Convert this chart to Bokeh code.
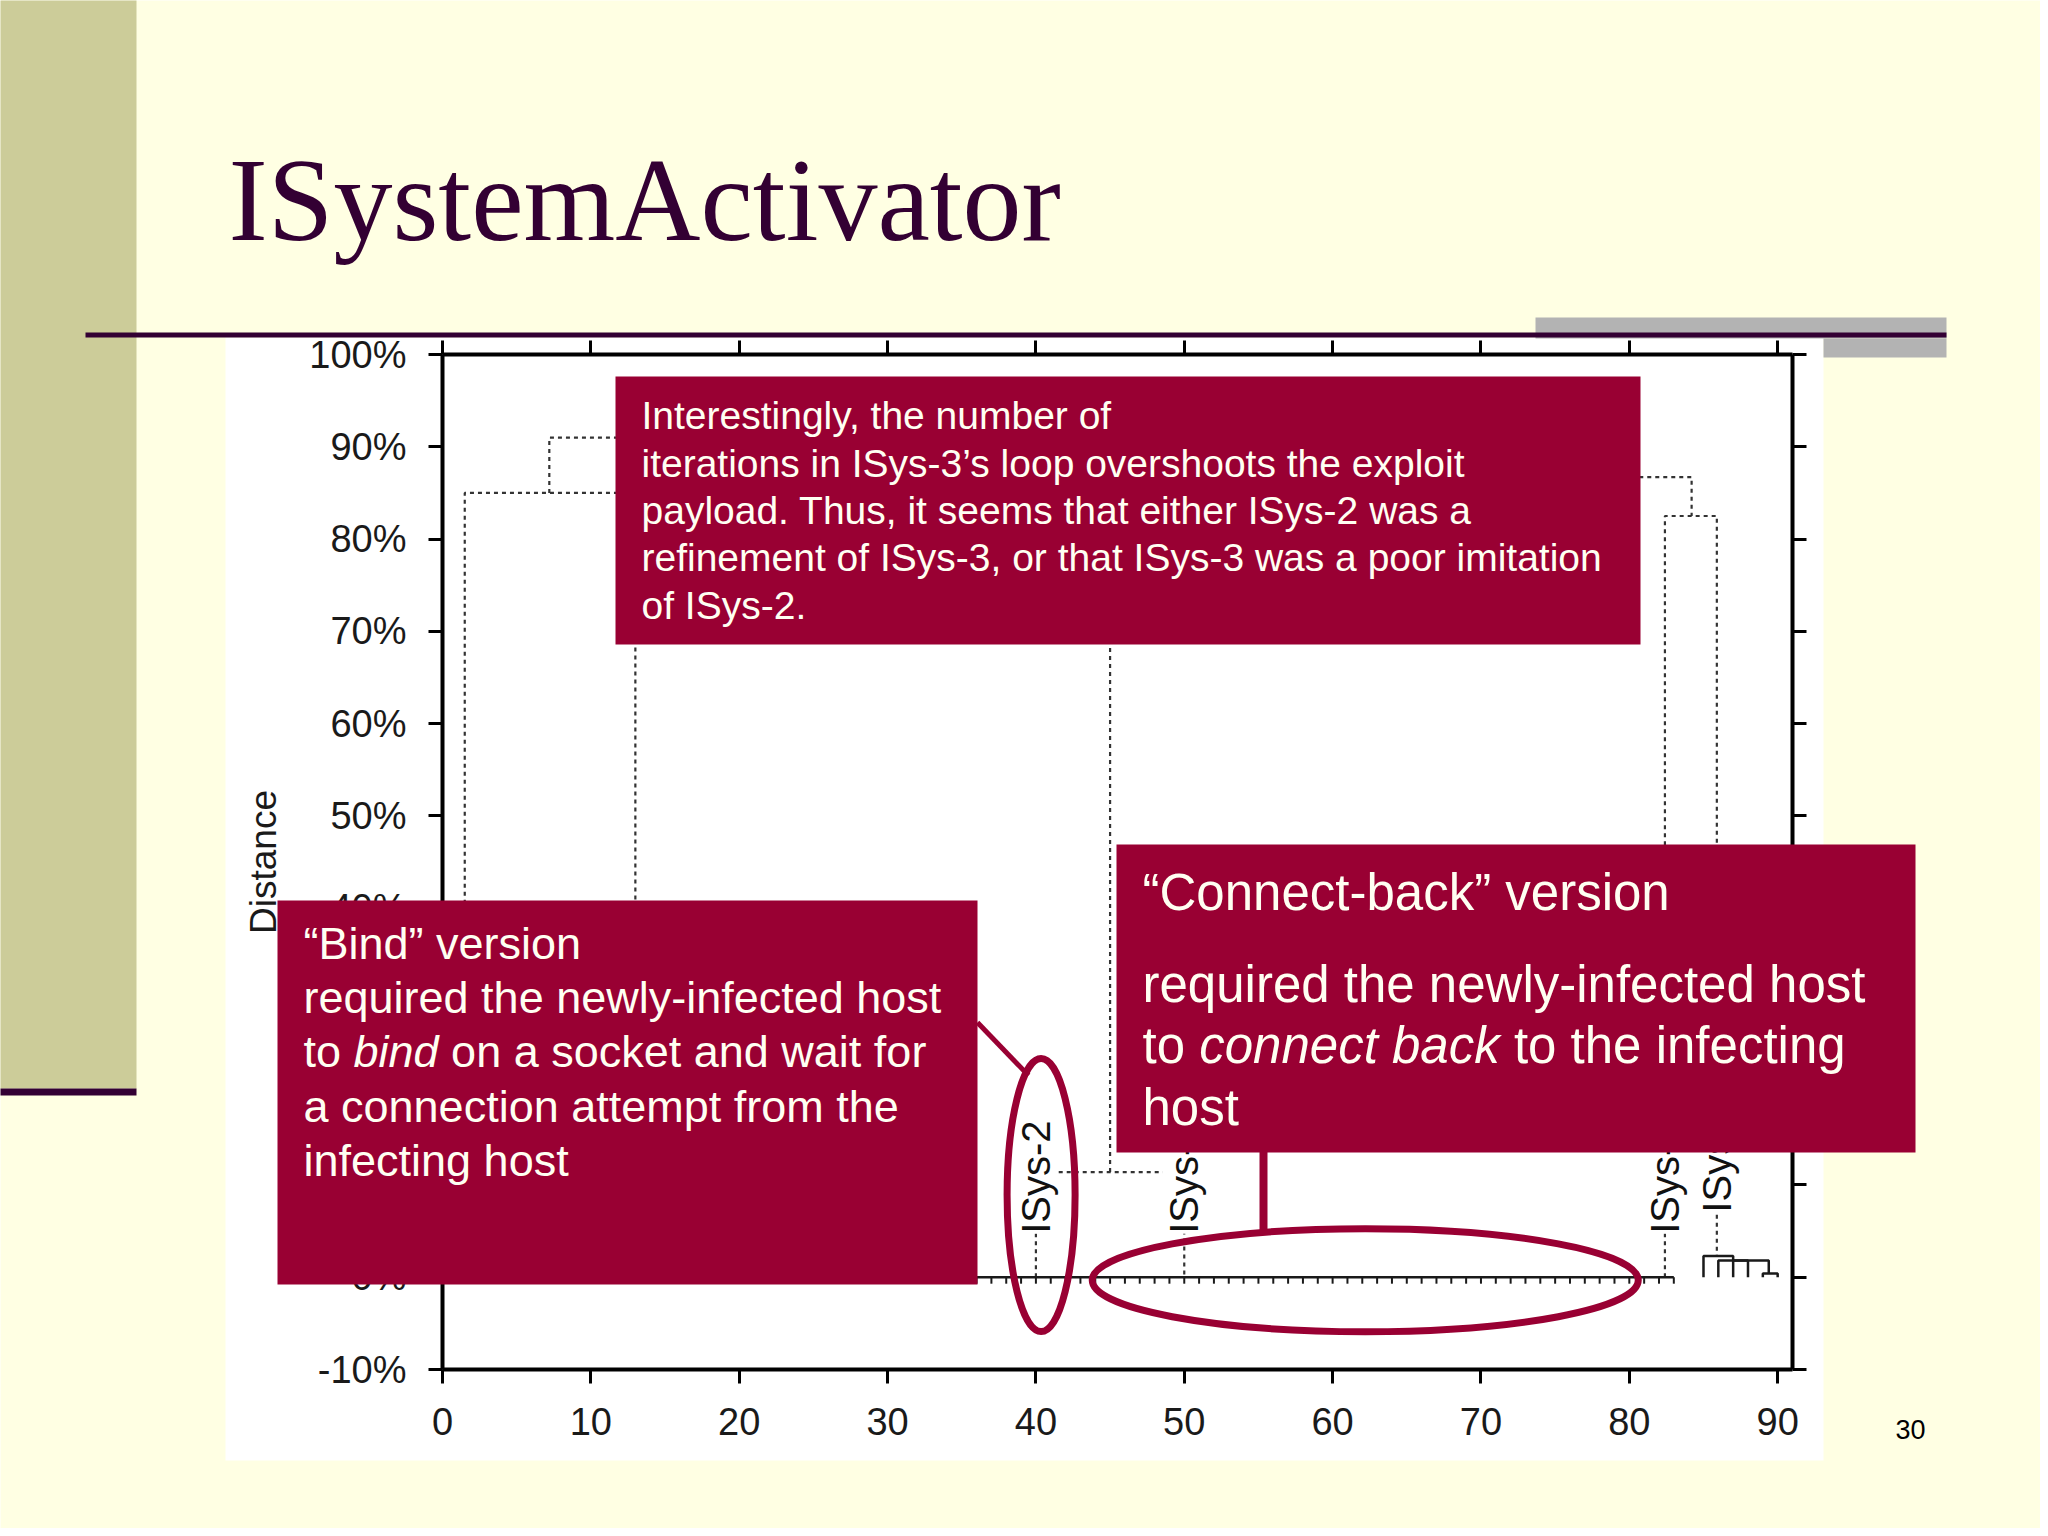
import numpy as np
from bokeh.plotting import figure
from bokeh.models import (Range1d, LinearAxis, FixedTicker, BoxAnnotation, Label,
                          PolyAnnotation, ColumnDataSource)
from bokeh.core.properties import value
from bokeh.embed import file_html
from bokeh.resources import INLINE

# ---------------- data ----------------
x_ticks = [0, 10, 20, 30, 40, 50, 60, 70, 80, 90]
x_tick_labels = ["0", "10", "20", "30", "40", "50", "60", "70", "80", "90"]
y_ticks = [-10, 0, 10, 20, 30, 40, 50, 60, 70, 80, 90, 100]
y_tick_labels = ["-10%", "0%", "10%", "20%", "30%", "40%", "50%", "60%",
                 "70%", "80%", "90%", "100%"]
y_axis_title = "Distance"

# dendrogram links: left x, right x, joining distance (%), distance of left / right child (%)
link_left_x = [1.5, 7.2, 45.0, 40.0, 82.4, 85.0, 86.0, 87.0, 89.0]
link_right_x = [13.0, 64.6, 84.2, 50.0, 85.9, 87.0, 89.4, 88.0, 90.0]
link_height = [85.0, 91.0, 86.7, 11.4, 82.5, 2.3, 1.8, 1.8, 0.4]
link_left_child = [0.6, 85.0, 11.4, 0.0, 0.0, 0.0, 0.0, 0.0, 0.0]
link_right_child = [0.6, 86.7, 82.5, 0.0, 2.3, 1.8, 0.4, 0.0, 0.0]

# leaves that sit on the zero-distance base line
leaf_x = [1, 2, 3, 4, 5, 6, 7, 8, 9, 10, 11, 12, 13, 14, 15, 16, 17, 18, 19, 20,
          21, 22, 23, 24, 25, 26, 27, 28, 29, 30, 31, 32, 33, 34, 35, 36, 37, 38, 39, 40,
          41, 42, 43, 44, 45, 46, 47, 48, 49, 50, 51, 52, 53, 54, 55, 56, 57, 58, 59, 60,
          61, 62, 63, 64, 65, 66, 67, 68, 69, 70, 71, 72, 73, 74, 75, 76, 77, 78, 79, 80,
          81, 82, 83]

# labelled leaves
leaf_labels = ["ISys-2", "ISys-3", "ISys-1", "ISys-4"]
leaf_label_x = [40.0, 50.0, 82.4, 85.9]
leaf_label_base = [0.0, 0.0, 0.0, 2.3]

# slide texts
slide_title = "ISystemActivator"
slide_number = "30"
note_top = ["Interestingly, the number of",
            "iterations in ISys-3\u2019s loop overshoots the exploit",
            "payload. Thus, it seems that either ISys-2 was a",
            "refinement of ISys-3, or that ISys-3 was a poor imitation",
            "of ISys-2."]
note_bind = ["\u201cBind\u201d version",
             "required the newly-infected host",
             ["to", "bind", "on a socket and wait for"],
             "a connection attempt from the",
             "infecting host"]
note_connect = ["\u201cConnect-back\u201d version",
                "required the newly-infected host",
                ["to", "connect back", "to the infecting"],
                "host"]

# ---------------- style / layout ----------------
BG = "#FFFFE3"
BAND = "#CCCC99"
DARK = "#330033"
GRAY = "#B3B3B3"
RED = "#990033"
CREAM = "#FFFFF2"
SANS = "Liberation Sans"
SERIF = "Liberation Serif"

W, H = 2040, 1528
# chart plotting box in window pixels and its data limits
CH_L, CH_R, CH_T, CH_B = 442, 1792, 354, 1369
X_LO, X_HI, Y_LO, Y_HI = 0, 91, -10, 100
ppx = (CH_R - CH_L) / (X_HI - X_LO)
ppy = (CH_B - CH_T) / (Y_HI - Y_LO)
x_start = X_LO - CH_L / ppx
x_end = X_LO + (W - CH_L) / ppx
y_end = Y_HI + CH_T / ppy
y_start = Y_LO - (H - CH_B) / ppy


def sx(X):
    return X


def sy(Y):
    return H - Y


p = figure(width=W, height=H, x_range=Range1d(x_start, x_end),
           y_range=Range1d(y_start, y_end),
           output_backend="svg", toolbar_location=None,
           min_border=0, min_border_left=0, min_border_right=0,
           min_border_top=0, min_border_bottom=0,
           background_fill_color=BG, border_fill_color=BG,
           outline_line_color=None)
p.title.visible = False
p.xgrid.visible = False
p.ygrid.visible = False


def style_axis(ax, ticks, labels, loc, bounds, show_labels=True):
    ax.ticker = FixedTicker(ticks=ticks)
    ax.fixed_location = loc
    ax.bounds = bounds
    ax.axis_line_color = "black"
    ax.axis_line_width = 4
    ax.major_tick_line_color = "black"
    ax.major_tick_line_width = 3
    ax.major_tick_in = 0
    ax.major_tick_out = 14
    ax.minor_tick_line_color = None
    ax.major_label_text_font = SANS
    ax.major_label_text_font_size = "38px"
    ax.major_label_text_color = "#1a1a1a"
    if show_labels:
        ax.major_label_overrides = {t: l for t, l in zip(ticks, labels)}
    else:
        ax.major_label_overrides = {t: "" for t in ticks}


style_axis(p.xaxis[0], x_ticks, x_tick_labels, Y_LO, (X_LO, X_HI))
p.xaxis[0].major_label_standoff = 24
style_axis(p.yaxis[0], y_ticks, y_tick_labels, X_LO, (Y_LO, Y_HI))
p.yaxis[0].major_label_standoff = 22
p.yaxis[0].axis_label = y_axis_title
p.yaxis[0].axis_label_text_font = SANS
p.yaxis[0].axis_label_text_font_size = "37px"
p.yaxis[0].axis_label_text_font_style = "normal"
p.yaxis[0].axis_label_text_color = "#1a1a1a"
p.yaxis[0].axis_label_standoff = 22

top_ax = LinearAxis()
style_axis(top_ax, x_ticks, x_tick_labels, Y_HI, (X_LO, X_HI), show_labels=False)
p.add_layout(top_ax, "above")
right_ax = LinearAxis()
style_axis(right_ax, y_ticks, y_tick_labels, X_HI, (Y_LO, Y_HI), show_labels=False)
p.add_layout(right_ax, "right")


# ---------------- slide decorations (screen units) ----------------
def sbox(X0, Y0, X1, Y1, color, level="annotation"):
    p.add_layout(BoxAnnotation(left=sx(X0), right=sx(X1), top=sy(Y0), bottom=sy(Y1),
                               left_units="screen", right_units="screen",
                               top_units="screen", bottom_units="screen",
                               fill_color=color, fill_alpha=1.0, line_color=None,
                               level=level))


def slabel(X, Yb, text, size, color, font=SANS, style="normal", align="left"):
    # Yb is the wanted baseline; Bokeh centres the text box on y ("middle")
    mid = 0.347 if font == SANS else 0.338
    p.add_layout(Label(x=sx(X), y=sy(Yb - mid * size), x_units="screen",
                       y_units="screen", text=text, text_font=font,
                       text_font_size=f"{size}px", text_font_style=style,
                       text_color=color, text_align=align, text_baseline="middle"))


sbox(-10, -10, 136, 1088, BAND, "underlay")
sbox(-10, 1088, 136, 1095, DARK, "underlay")
sbox(225, 337, 1823, 1460, "white", "underlay")
sbox(1535, 317, 1946, 338, GRAY, "underlay")
sbox(1823, 338, 1946, 357, GRAY, "underlay")
sbox(85, 332, 1946, 337, DARK, "underlay")

slabel(228, 240, slide_title, 118, DARK, font=SERIF)
slabel(1910, 1438, slide_number, 27, "black", align="center")

# ---------------- dendrogram ----------------
solid_xs, solid_ys, dot_xs, dot_ys = [], [], [], []
for xl, xr, h, hl, hr in zip(link_left_x, link_right_x, link_height,
                             link_left_child, link_right_child):
    xs_ = [xl, xl, xr, xr]
    ys_ = [hl, h, h, hr]
    if h >= 5:
        dot_xs.append(xs_); dot_ys.append(ys_)
    else:
        solid_xs.append(xs_); solid_ys.append(ys_)

p.multi_line(dot_xs, dot_ys, line_color="#333333", line_width=2.2, line_dash="4 4")
p.multi_line(solid_xs, solid_ys, line_color="#1a1a1a", line_width=2.5)

leaf_zero = [0.0 for _ in leaf_x]
p.line(leaf_x, leaf_zero, line_color="#1a1a1a", line_width=2.5)
p.segment(x0=leaf_x, y0=leaf_zero, x1=leaf_x, y1=[-0.7 for _ in leaf_x],
          line_color="#1a1a1a", line_width=2)

label_gap = 4.7
lab_src = ColumnDataSource(dict(x=leaf_label_x,
                                y=[b + label_gap for b in leaf_label_base],
                                text=leaf_labels))
p.text(x="x", y="y", text="text", source=lab_src, angle=np.pi / 2,
       text_align="left", text_baseline="middle", text_font=value(SANS),
       text_font_size="40px", text_color="#111111", background_fill_color="white")

# highlight ellipses (around ISys-2 and around the zero-distance group)
p.ellipse(x=[40.35], y=[8.9], width=[68], height=[273], width_units="screen",
          height_units="screen", fill_color=None, line_color=RED, line_width=7)
p.ellipse(x=[62.2], y=[-0.33], width=[546], height=[103], width_units="screen",
          height_units="screen", fill_color=None, line_color=RED, line_width=7)

# ---------------- call-out boxes ----------------
sbox(615, 376, 1640, 644, RED)
sbox(277, 900, 977, 1284, RED)
sbox(1116, 844, 1915, 1152, RED)
sbox(1259, 1150, 1267, 1230, RED)
p.add_layout(PolyAnnotation(xs=[sx(977), sx(1028)], ys=[sy(1022), sy(1075)],
                            xs_units="screen", ys_units="screen",
                            fill_alpha=0, line_color=RED, line_alpha=1.0,
                            line_width=5))

for i, t in enumerate(note_top):
    slabel(641, 429 + i * 47.3, t, 39, CREAM)

fs = 45
base_b = [959, 1013, 1067, 1122, 1176]
for i, t in enumerate(note_bind):
    if isinstance(t, list):
        x0 = 303
        slabel(x0, base_b[i], t[0], fs, CREAM)
        x1 = x0 + 1.112 * fs
        slabel(x1, base_b[i], t[1], fs, CREAM, style="italic")
        x2 = x1 + (1.89 + 0.278) * fs
        slabel(x2, base_b[i], t[2], fs, CREAM)
    else:
        slabel(303, base_b[i], t, fs, CREAM)

fs = 51
base_c = [910, 1002, 1063, 1125]
for i, t in enumerate(note_connect):
    if isinstance(t, list):
        x0 = 1142
        slabel(x0, base_c[i], t[0], fs, CREAM)
        x1 = x0 + 1.112 * fs
        slabel(x1, base_c[i], t[1], fs, CREAM, style="italic")
        x2 = x1 + (5.892 + 0.278) * fs
        slabel(x2, base_c[i], t[2], fs, CREAM)
    else:
        slabel(1142, base_c[i], t, fs, CREAM)

html = file_html(p, INLINE)
html = html.replace("<body>", f'<body style="background-color:{BG};">', 1)
open("out.html", "w").write(html)
